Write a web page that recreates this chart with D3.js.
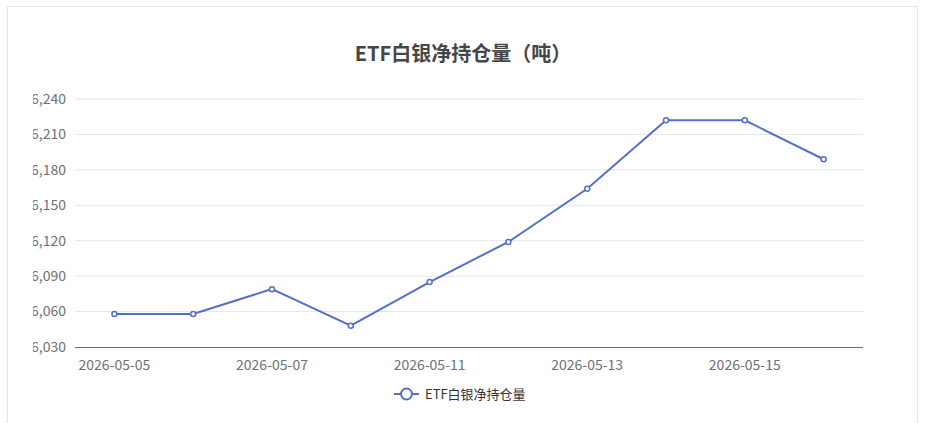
<!DOCTYPE html>
<html><head><meta charset="utf-8">
<script src="https://cdn.jsdelivr.net/npm/d3@7"></script>
<style>body{margin:0;background:#fff;font-family:"Microsoft YaHei","Noto Sans CJK SC",sans-serif}</style>
</head><body>
<svg id="chart" width="925" height="423"></svg>
<script>
const dates = ['2026-05-05','2026-05-06','2026-05-07','2026-05-08','2026-05-11','2026-05-12','2026-05-13','2026-05-14','2026-05-15','2026-05-16'];
const holdings = [16058, 16058, 16079, 16048, 16085, 16119, 16164, 16222, 16222, 16189];
const yTicks = [16030, 16060, 16090, 16120, 16150, 16180, 16210, 16240];
const seriesName = 'ETF白银净持仓量';

const svg = d3.select('#chart');
const color = '#5470c6';
const font = '"Microsoft YaHei","Noto Sans CJK SC",sans-serif';

// card border
svg.append('rect').attr('x', 7.5).attr('y', 6.5).attr('width', 910).attr('height', 430)
	.attr('fill', '#fff').attr('stroke', '#e6e6e6');

svg.append('defs').append('clipPath').attr('id', 'clip')
	.append('rect').attr('x', 33).attr('y', 0).attr('width', 900).attr('height', 423);

svg.append('text').attr('x', 463).attr('y', 61).attr('text-anchor', 'middle')
	.attr('font-size', 20).attr('font-weight', 'bold').attr('fill', '#464646')
	.attr('font-family', font).text(seriesName + '（吨）');

const x = d3.scaleBand().domain(dates).range([75, 863]);
const y = d3.scaleLinear().domain([16030, 16240]).range([347, 99]);

const g = svg.append('g').attr('clip-path', 'url(#clip)');

g.selectAll('line.grid').data(yTicks.slice(1)).join('line').attr('class', 'grid')
	.attr('x1', 75).attr('x2', 863).attr('y1', d => y(d)).attr('y2', d => y(d))
	.attr('stroke', '#e0e6f1');

g.selectAll('text.ylab').data(yTicks).join('text').attr('class', 'ylab')
	.attr('x', 66).attr('y', d => y(d)).attr('dy', '0.35em').attr('text-anchor', 'end')
	.attr('font-size', 14).attr('fill', '#6e7079').attr('font-family', font)
	.text(d => d3.format(',')(d));

g.append('line').attr('x1', 75).attr('x2', 863).attr('y1', 347.5).attr('y2', 347.5).attr('stroke', '#6e7079');

g.selectAll('text.xlab').data(dates.filter((d, i) => i % 2 === 0)).join('text').attr('class', 'xlab')
	.attr('x', d => x(d) + x.bandwidth() / 2).attr('y', 370).attr('text-anchor', 'middle')
	.attr('font-size', 14).attr('fill', '#6e7079').attr('font-family', font).text(d => d);

const line = d3.line().x((d, i) => x(dates[i]) + x.bandwidth() / 2).y(d => y(d));
g.append('path').attr('d', line(holdings)).attr('fill', 'none').attr('stroke', color).attr('stroke-width', 2);
g.selectAll('circle.pt').data(holdings).join('circle').attr('class', 'pt')
	.attr('cx', (d, i) => x(dates[i]) + x.bandwidth() / 2).attr('cy', d => y(d)).attr('r', 2.5)
	.attr('fill', '#fff').attr('stroke', color).attr('stroke-width', 1.5);

// legend
const lg = svg.append('g').attr('transform', 'translate(394,394)');
lg.append('line').attr('x1', 0).attr('x2', 25).attr('stroke', color).attr('stroke-width', 2);
lg.append('circle').attr('cx', 12.5).attr('r', 5.5).attr('fill', '#fff').attr('stroke', color).attr('stroke-width', 2);
lg.append('text').attr('x', 31).attr('dy', '0.35em').attr('font-size', 13).attr('fill', '#333')
	.attr('font-family', font).text(seriesName);
</script>
</body></html>
